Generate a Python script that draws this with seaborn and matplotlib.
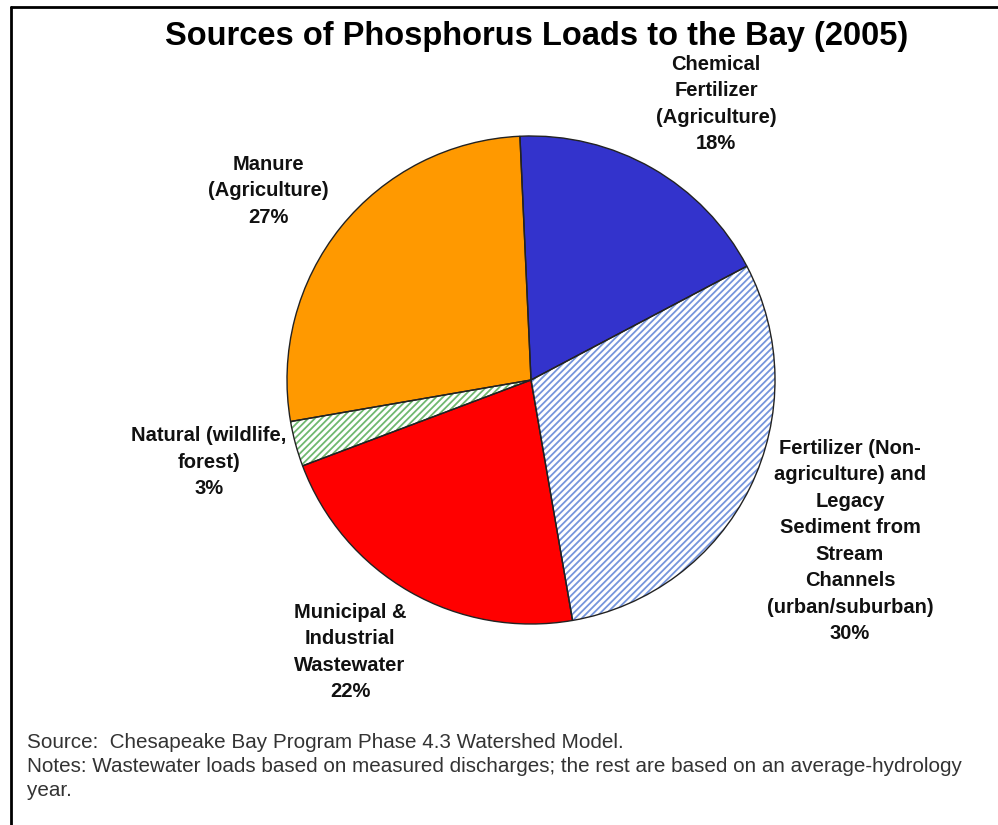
import numpy as np
import matplotlib
matplotlib.use("Agg")
import matplotlib.pyplot as plt
from matplotlib.lines import Line2D
import seaborn as sns

# data, clockwise from the top
sources = ["Chemical\nFertilizer\n(Agriculture)",
           "Fertilizer (Non-\nagriculture) and\nLegacy\nSediment from\nStream\nChannels\n(urban/suburban)",
           "Municipal &\nIndustrial\nWastewater",
           "Natural (wildlife,\nforest)",
           "Manure\n(Agriculture)"]
shares = [18, 30, 22, 3, 27]
fills = ["#3333CC", "white", "#FF0000", "white", "#FF9900"]
hatches = [None, "/////", None, "/////", None]
hatch_cols = [None, "#7595DC", None, "#70B870", None]

# label centres in pixels (x, y from top)
label_xy = [(716, 104), (850, 541), (350, 652), (209, 462), (268, 191)]

sns.set_theme(style="white")
plt.rcParams["font.family"] = ["Liberation Sans", "DejaVu Sans"]
plt.rcParams["hatch.linewidth"] = 1.3

W, H = 998, 825
fig = plt.figure(figsize=(W / 100, H / 100), dpi=100)
fig.patch.set_facecolor("white")

cx, cy, r = 531, 380, 244
ax = fig.add_axes([(cx - r) / W, (H - cy - r) / H, 2 * r / W, 2 * r / H])

# hatched fill layer
wedges, _ = ax.pie(shares, colors=fills, startangle=92.6, counterclock=False,
                   wedgeprops=dict(linewidth=0))
for w, h, hc in zip(wedges, hatches, hatch_cols):
    if h:
        w.set_hatch(h)
        w.set_edgecolor(hc)
        w.set_linewidth(0)
# black outlines on top
ax.pie(shares, colors=["none"] * len(shares), startangle=92.6, counterclock=False,
       wedgeprops=dict(linewidth=1.0, edgecolor="#222222", fill=False))
ax.set_xlim(-1, 1)
ax.set_ylim(-1, 1)
ax.set_aspect("equal")
ax.axis("off")

for name, v, (x, y) in zip(sources, shares, label_xy):
    fig.text(x / W, 1 - y / H, f"{name}\n{v}%", ha="center", va="center",
             fontsize=14.5, fontweight="bold", linespacing=1.5, color="#111111")

fig.text(537 / W, 1 - 37 / H, "Sources of Phosphorus Loads to the Bay (2005)",
         ha="center", va="center", fontsize=23.5, fontweight="bold", color="black")

foot = ["Source:  Chesapeake Bay Program Phase 4.3 Watershed Model.",
        "Notes: Wastewater loads based on measured discharges; the rest are based on an average-hydrology",
        "year."]
for i, line in enumerate(foot):
    fig.text(27 / W, 1 - (742 + 24 * i) / H, line, ha="left", va="center",
             fontsize=14.9, color="#333333")

# frame lines (top and left)
fig.add_artist(Line2D([11 / W, 1], [1 - 7 / H, 1 - 7 / H], color="black", lw=2))
fig.add_artist(Line2D([11 / W, 11 / W], [0, 1 - 7 / H], color="black", lw=2))

fig.savefig("out.png", dpi=100, facecolor="white")
